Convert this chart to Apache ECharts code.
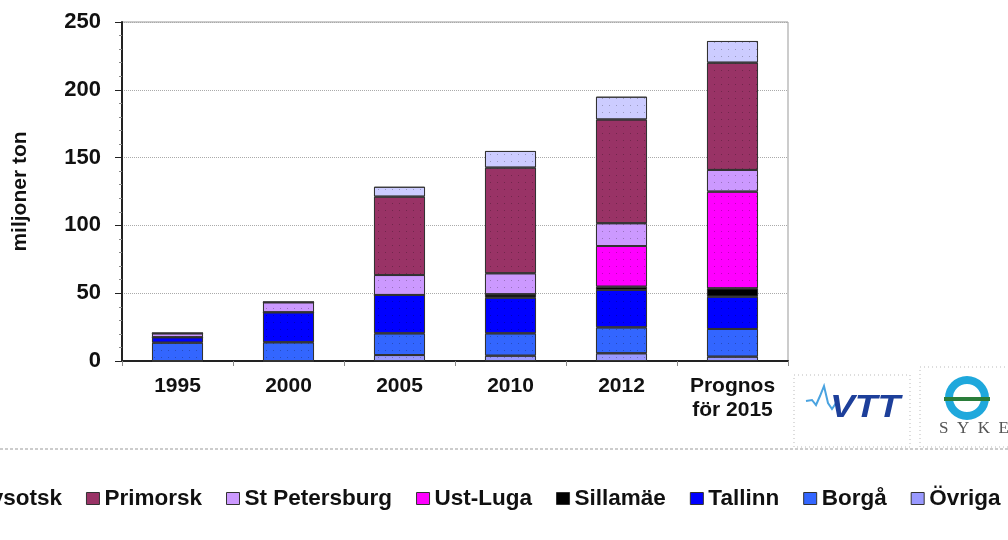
<!doctype html>
<html>
<head>
<meta charset="UTF-8">
<title>Oljehamnar</title>
<script src="https://cdn.jsdelivr.net/npm/echarts@6/dist/echarts.min.js"></script>
<style>
  html, body { margin: 0; padding: 0; background: #fff; }
  #main { width: 1008px; height: 540px; }
</style>
</head>
<body>
<div id="main"></div>
<script>
// kategorier och värden (miljoner ton), staplade nerifrån och upp
var years = ['1995', '2000', '2005', '2010', '2012', 'Prognos\nför 2015'];
var ovriga       = [0, 0, 4.4, 3.9, 5.7, 3.2];
var borga        = [13.5, 13.8, 16, 16.5, 19.1, 20.4];
var tallinn      = [4, 22.1, 28.3, 26.3, 27.6, 23.8];
var sillamae     = [0, 0, 0, 2.5, 2.4, 6.2];
var ustLuga      = [0, 0, 0, 0, 30, 71.3];
var stPetersburg = [2.9, 7.4, 14.7, 15.5, 16.8, 16];
var primorsk     = [0, 0, 57.8, 77.9, 76.5, 79.1];
var vysotsk      = [0, 0, 7.3, 12.3, 16.8, 16];
var yTicks = [0, 50, 100, 150, 200, 250];

var legendOrder = ['Vysotsk', 'Primorsk', 'St Petersburg', 'Ust-Luga', 'Sillamäe', 'Tallinn', 'Borgå', 'Övriga'];

var font = '"Liberation Sans", Arial, sans-serif';
var chart = echarts.init(document.getElementById('main'));

function mk(name, data, color) {
    return {
        name: name,
        type: 'bar',
        stack: 'total',
        barWidth: '46%',
        data: data,
        itemStyle: {
            color: color,
            borderColor: '#333',
            borderWidth: 1,
            decal: {
                symbol: 'rect',
                symbolSize: 1,
                color: 'rgba(0,0,0,0.25)',
                dashArrayX: [[1, 6]],
                dashArrayY: [1, 6]
            }
        }
    };
}

var series = [
    mk('Övriga', ovriga, '#9999ff'),
    mk('Borgå', borga, '#3366ff'),
    mk('Tallinn', tallinn, '#0000ff'),
    mk('Sillamäe', sillamae, '#000000'),
    mk('Ust-Luga', ustLuga, '#ff00ff'),
    mk('St Petersburg', stPetersburg, '#cc99ff'),
    mk('Primorsk', primorsk, '#993366'),
    mk('Vysotsk', vysotsk, '#ccccff')
];

var option = {
    backgroundColor: '#fff',
    animation: false,
    grid: {
        left: 122, right: 220, top: 22, bottom: 179,
        show: true, borderColor: '#999', borderWidth: 1
    },
    legend: {
        data: legendOrder,
        left: -42,
        top: 487,
        width: 1200,
        padding: 0,
        itemWidth: 13,
        itemHeight: 12,
        itemGap: 24,
        icon: 'rect',
        textStyle: { fontFamily: font, fontWeight: 'bold', fontSize: 22.5, color: '#111' },
        itemStyle: { borderColor: '#333', borderWidth: 1, decal: 'none' }
    },
    xAxis: {
        type: 'category',
        data: years,
        axisLine: { lineStyle: { color: '#222', width: 2 } },
        axisTick: { show: true, length: 5, lineStyle: { color: '#888' } },
        axisLabel: {
            fontFamily: font, fontWeight: 'bold', fontSize: 21, color: '#111',
            margin: 13, lineHeight: 24
        }
    },
    yAxis: {
        type: 'value',
        min: yTicks[0],
        max: yTicks[yTicks.length - 1],
        interval: 50,
        name: 'miljoner ton',
        nameLocation: 'middle',
        nameGap: 91,
        nameRotate: 90,
        nameTextStyle: { fontFamily: font, fontWeight: 'bold', fontSize: 21, color: '#111' },
        axisLine: { show: true, lineStyle: { color: '#222', width: 2 } },
        axisTick: { show: true, length: 7, lineStyle: { color: '#222' } },
        minorTick: { show: true, splitNumber: 5, length: 3, lineStyle: { color: '#888' } },
        axisLabel: {
            fontFamily: font, fontWeight: 'bold', fontSize: 22, color: '#111', margin: 21
        },
        splitLine: { show: true, lineStyle: { color: '#aaa', type: 'dotted' } }
    },
    graphic: [
        // prickad linje över legenden
        { type: 'line', shape: { x1: 0, y1: 449, x2: 1008, y2: 449 },
          style: { stroke: '#999', lineWidth: 1, lineDash: [3, 2] } },
        // VTT-ruta
        { type: 'rect', shape: { x: 794, y: 375, width: 116, height: 72 },
          style: { fill: 'none', stroke: '#bbb', lineWidth: 1, lineDash: [1, 3] } },
        { type: 'polyline', shape: { points: [[806, 401], [812, 400], [816, 405], [820, 396], [824, 386], [828, 403], [832, 409], [838, 400]] },
          style: { stroke: '#4aa3e0', lineWidth: 2, fill: 'none' } },
        { type: 'text', x: 830, y: 393, scaleX: 1.2,
          style: { text: 'VTT', fontFamily: font, fontWeight: 'bold', fontStyle: 'italic', fontSize: 31, fill: '#1d3f9a' } },
        // SYKE-ruta
        { type: 'rect', shape: { x: 920, y: 367, width: 100, height: 80 },
          style: { fill: 'none', stroke: '#bbb', lineWidth: 1, lineDash: [1, 3] } },
        { type: 'ring', shape: { cx: 967, cy: 398, r: 22, r0: 14 },
          style: { fill: '#1fa8dc' } },
        { type: 'rect', shape: { x: 944, y: 397, width: 46, height: 4 },
          style: { fill: '#2a7d3a' } },
        { type: 'text', left: 939, top: 420,
          style: { text: 'S  Y  K  E', fontFamily: '"Liberation Serif", serif', fontSize: 17, fill: '#555' } }
    ],
    series: series
};

chart.setOption(option);
</script>
</body>
</html>
